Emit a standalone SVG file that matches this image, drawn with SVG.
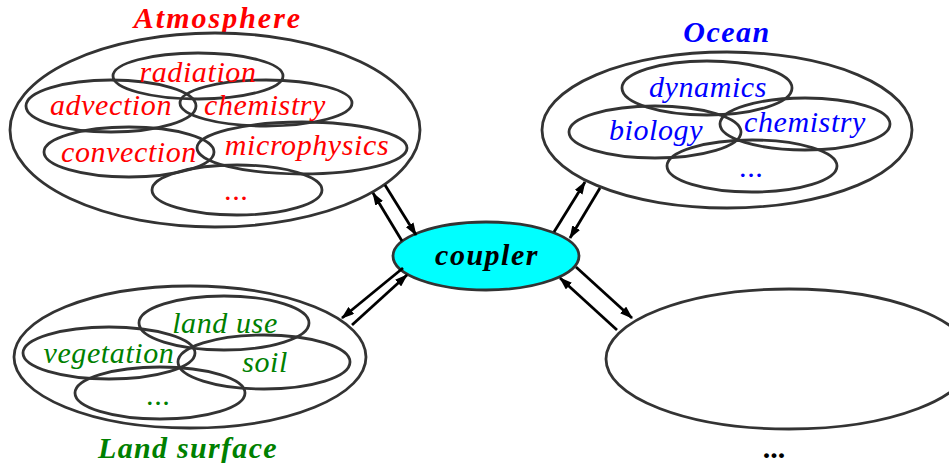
<svg xmlns="http://www.w3.org/2000/svg" width="949" height="463" viewBox="0 0 949 463">
<style>
  .e { fill: none; stroke: #333; stroke-width: 2.8; }
  .lbl { font-family: "Liberation Serif", "Times New Roman", serif; font-style: italic; font-size: 30px; text-anchor: middle; letter-spacing: 0.6px; }
  .ttl { font-family: "Liberation Serif", "Times New Roman", serif; font-style: italic; font-weight: bold; font-size: 30px; text-anchor: middle; letter-spacing: 1.5px; }
  .red { fill: #ff0000; }
  .blue { fill: #0000ff; }
  .green { fill: #008000; }
  .conn line { stroke: #000; stroke-width: 2.8; marker-end: url(#ah); }
</style>
<defs>
  <marker id="ah" markerWidth="13" markerHeight="9" refX="12" refY="4.5" orient="auto" markerUnits="userSpaceOnUse">
    <path d="M0,0 L13,4.5 L0,9 z" fill="#000"/>
  </marker>
</defs>
<rect width="949" height="463" fill="#fff"/>

<g id="atmosphere">
  <text class="ttl red" x="218" y="28" style="letter-spacing:2px">Atmosphere</text>
  <ellipse class="e" cx="215" cy="130" rx="205" ry="97"/>
  <ellipse class="e" cx="198" cy="76" rx="85" ry="23"/>
  <ellipse class="e" cx="111" cy="106" rx="85" ry="26"/>
  <ellipse class="e" cx="266" cy="103" rx="86" ry="23"/>
  <ellipse class="e" cx="129" cy="152" rx="85" ry="25"/>
  <ellipse class="e" cx="302" cy="148" rx="105" ry="26"/>
  <ellipse class="e" cx="237" cy="190" rx="85" ry="25"/>
  <text class="lbl red" x="198" y="82">radiation</text>
  <text class="lbl red" x="111" y="115">advection</text>
  <text class="lbl red" x="265" y="115">chemistry</text>
  <text class="lbl red" x="129" y="162">convection</text>
  <text class="lbl red" x="307" y="155">microphysics</text>
  <text class="lbl red" x="237" y="200">...</text>
</g>

<g id="ocean">
  <text class="ttl blue" x="727" y="42">Ocean</text>
  <ellipse class="e" cx="727" cy="130" rx="185" ry="78"/>
  <ellipse class="e" cx="707" cy="88" rx="85" ry="27"/>
  <ellipse class="e" cx="655" cy="132" rx="86" ry="26"/>
  <ellipse class="e" cx="805" cy="124" rx="85" ry="26"/>
  <ellipse class="e" cx="752" cy="166" rx="85" ry="26"/>
  <text class="lbl blue" x="708" y="97">dynamics</text>
  <text class="lbl blue" x="656" y="140">biology</text>
  <text class="lbl blue" x="805" y="132">chemistry</text>
  <text class="lbl blue" x="752" y="177">...</text>
</g>

<g id="land">
  <ellipse class="e" cx="190" cy="357" rx="176" ry="71"/>
  <ellipse class="e" cx="224" cy="323" rx="85" ry="27"/>
  <ellipse class="e" cx="109" cy="353" rx="86" ry="26"/>
  <ellipse class="e" cx="264" cy="362" rx="86" ry="27"/>
  <ellipse class="e" cx="160" cy="393" rx="85" ry="26"/>
  <text class="lbl green" x="225" y="333">land use</text>
  <text class="lbl green" x="109" y="363">vegetation</text>
  <text class="lbl green" x="265" y="372">soil</text>
  <text class="lbl green" x="159" y="405">...</text>
  <text class="ttl green" x="188" y="458" style="letter-spacing:1.3px">Land surface</text>
</g>

<g id="other">
  <ellipse class="e" cx="789" cy="359" rx="183" ry="70"/>
  <text x="774" y="458" style="font-family:'Liberation Serif','Times New Roman',serif;font-weight:bold;font-size:30px;text-anchor:middle;fill:#000">...</text>
</g>

<g id="coupler">
  <ellipse cx="486" cy="256" rx="93" ry="34" fill="#00ffff" stroke="#333" stroke-width="2.8"/>
  <text class="ttl" x="487" y="265" fill="#000">coupler</text>
</g>

<g id="connectors" class="conn">
  <line x1="402" y1="241" x2="373" y2="193"/>
  <line x1="385" y1="185" x2="416" y2="235"/>
  <line x1="554" y1="232" x2="585" y2="182"/>
  <line x1="600" y1="188" x2="570" y2="238"/>
  <line x1="403" y1="268" x2="342" y2="318"/>
  <line x1="352" y1="325" x2="407" y2="275"/>
  <line x1="576" y1="267" x2="632" y2="318"/>
  <line x1="617" y1="330" x2="560" y2="278"/>
</g>
</svg>
